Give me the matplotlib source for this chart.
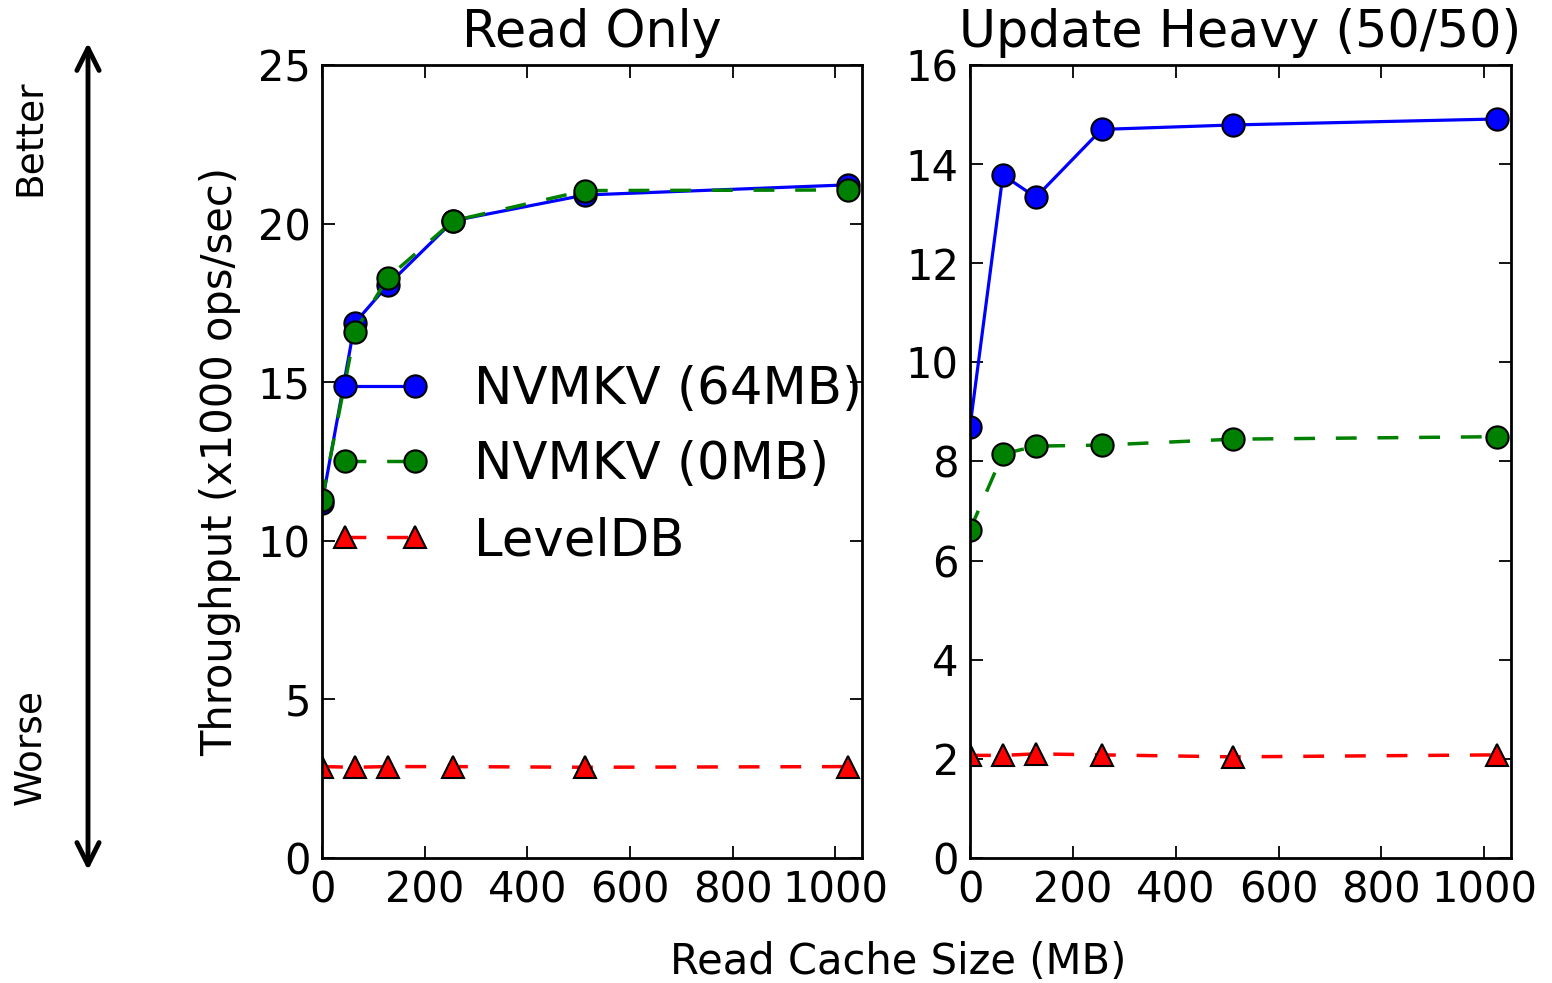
import matplotlib
matplotlib.use("Agg")
import matplotlib.pyplot as plt

# ---- data ----
cache_mb = [0, 64, 128, 256, 512, 1024]

read_nvmkv64 = [11.19, 16.87, 18.06, 20.09, 20.90, 21.22]
read_nvmkv0 = [11.29, 16.59, 18.29, 20.09, 21.04, 21.06]
read_leveldb = [2.88, 2.86, 2.88, 2.88, 2.86, 2.88]

upd_nvmkv64 = [8.70, 13.78, 13.33, 14.70, 14.79, 14.91]
upd_nvmkv0 = [6.62, 8.15, 8.31, 8.33, 8.45, 8.50]
upd_leveldb = [2.07, 2.07, 2.10, 2.08, 2.04, 2.08]

labels = ["NVMKV (64MB)", "NVMKV (0MB)", "LevelDB"]
titles = ["Read Only", "Update Heavy (50/50)"]
xticks = [0, 200, 400, 600, 800, 1000]
left_yticks = [0, 5, 10, 15, 20, 25]
right_yticks = [0, 2, 4, 6, 8, 10, 12, 14, 16]

plt.rcParams['font.family'] = ['DejaVu Sans']
plt.rcParams['axes.linewidth'] = 2

fig = plt.figure(figsize=(15.52, 9.83), dpi=100)
ax1 = fig.add_axes([0.2075, 0.1272, 0.3479, 0.8067])
ax2 = fig.add_axes([0.625, 0.1272, 0.3486, 0.8067])

def draw(ax, s64, s0, sl, title, yticks, ymax):
    ax.plot(cache_mb, s64, color='blue', lw=2.3, marker='o', ms=16,
            mec='black', mew=1.5, label=labels[0])
    ax.plot(cache_mb, s0, color='green', lw=2.5, ls='--', dashes=(6, 6),
            marker='o', ms=16, mec='black', mew=1.5, label=labels[1])
    ax.plot(cache_mb, sl, color='red', lw=2.5, ls='--', dashes=(6, 6),
            marker='^', ms=16, mec='black', mew=1.5, label=labels[2])
    ax.set_xlim(0, 1052)
    ax.set_ylim(0, ymax)
    ax.set_xticks(xticks)
    ax.set_yticks(yticks)
    ax.tick_params(direction='in', length=9, width=1.3, labelsize=30,
                   top=True, right=True, pad=8)
    ax.set_title(title, fontsize=36.5, pad=13)

draw(ax1, read_nvmkv64, read_nvmkv0, read_leveldb, titles[0], left_yticks, 25)
draw(ax2, upd_nvmkv64, upd_nvmkv0, upd_leveldb, titles[1], right_yticks, 16)

ax1.set_ylabel("Throughput (x1000 ops/sec)", fontsize=30, labelpad=12)
fig.text(0.5786, 1 - 962 / 983, "Read Cache Size (MB)", fontsize=30,
         ha='center', va='center')

ax1.legend(loc='center left', bbox_to_anchor=(0.0148, 0.495), frameon=False,
           fontsize=37, numpoints=2, handlelength=1.95, handletextpad=0.85,
           labelspacing=0.5, borderpad=0, borderaxespad=0)

# Better / Worse arrow
fig.patches.append(matplotlib.patches.FancyArrowPatch(
    (0.0567, 0.1119), (0.0567, 0.9593), transform=fig.transFigure,
    arrowstyle='<->,head_length=0.4,head_width=0.2', mutation_scale=40,
    lw=3.5, color='black'))
fig.text(0.0193, 1 - 138 / 983, "Better", rotation=90, fontsize=27,
         ha='center', va='center')
fig.text(0.0193, 1 - 747 / 983, "Worse", rotation=90, fontsize=27,
         ha='center', va='center')

fig.savefig("out.png", dpi=100)
